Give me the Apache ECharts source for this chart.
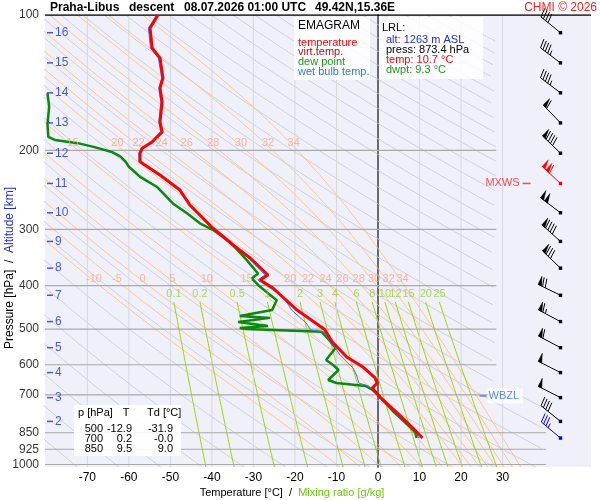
<!DOCTYPE html>
<html>
<head>
<meta charset="utf-8">
<script src="https://cdn.jsdelivr.net/npm/echarts@6/dist/echarts.min.js"></script>
<style>
html,body{margin:0;padding:0;background:#fff}
#chart{width:600px;height:500px}
</style>
</head>
<body>
<div id="chart"></div>
<script>
// axes
const pressTicks = [100, 200, 300, 400, 500, 600, 700, 850, 925, 1000];
const tempTicks = [-70, -60, -50, -40, -30, -20, -10, 0, 10, 20, 30];

// altitude marks (km) and the pressure where they sit in this sounding
const altKm = [16, 15, 14, 13, 12, 11, 10, 9, 8, 7, 6, 5, 4, 3, 2];
const altPres = [109.5, 127.8, 149.0, 173.8, 203.0, 237.0, 275.4, 319.0, 365.8, 420.3, 481.0, 549.7, 624.5, 710.0, 802.0];

// winds (deg, kt), last level is the launch level
const windP = [109.5, 127.8, 149.0, 173.8, 203.0, 237.0, 275.4, 319.0, 365.8, 420.3, 481.0, 549.7, 624.5, 710.0, 802.0, 873.4];
const windDir = [309, 307, 307, 316, 314, 313, 307, 312, 314, 296, 298, 298, 297, 297, 309, 310];
const windSpd = [40, 45, 45, 60, 90, 110, 100, 90, 80, 70, 65, 60, 50, 50, 40, 35];
const mxwsP = 237.0;
const wbzlP = 704;

// temperature
const tempP = [100, 106.9, 118.4, 124.7, 138.1, 145.4, 156.2, 172.9, 182.0, 191.7, 197.9, 202.9, 212.0, 227.0, 245.1, 264.7, 278.6, 297.8, 324.9, 347.2, 378.9, 388.7, 404.9, 453.3, 500, 534, 576.6, 607, 642, 659, 676, 708, 768, 830, 850, 873.4];
const tempT = [-53.0, -54.9, -54.4, -52.5, -51.8, -52.5, -52.0, -52.5, -52.0, -54.4, -56.8, -57.3, -57.3, -52.5, -47.7, -45.3, -42.9, -39.8, -34.9, -30.8, -26.5, -28.4, -25.3, -19.5, -12.9, -11.0, -7.5, -3.6, -0.7, -0.2, -1.4, 0.5, 4.6, 8.4, 9.5, 10.7];

// dew point
const dewP = [149.2, 160, 175, 186.8, 189.7, 192.8, 196.5, 201.7, 206.6, 212.0, 217.6, 229.1, 241.0, 262.6, 276.2, 290.7, 300.6, 319.4, 351.0, 375.9, 385.6, 402.5, 431.0, 453.3, 467.3, 471.9, 481.9, 491.9, 497.0, 499.5, 506.5, 528.6, 550.6, 562.0, 585.6, 600.8, 616.3, 648.7, 658.8, 669.0, 682.9, 700, 768, 830, 850, 873.4];
const dewT = [-79.6, -79.2, -79.6, -79.4, -77.8, -72.3, -68.5, -64.1, -62.0, -60.8, -60.0, -57.3, -53.3, -49.4, -46.0, -42.9, -39.8, -35.7, -31.6, -28.9, -30.4, -28.4, -24.4, -25.5, -33.3, -26.0, -33.7, -26.5, -33.3, -31.9, -13.6, -11.8, -10.2, -11.0, -12.5, -10.8, -9.5, -12.0, -10.0, -3.0, -1.3, 0.0, 4.0, 8.0, 9.0, 9.3];

// wet bulb temperature
const wetP = [100, 106.9, 118.4, 124.7, 138.1, 145.4, 156.2, 172.9, 182.0, 191.7, 197.9, 202.9, 212.0, 227.0, 245.1, 264.7, 278.6, 297.8, 324.9, 347.2, 378.9, 388.7, 404.9, 424.0, 453.3, 484.5, 502.2, 507.3, 534.0, 547.8, 570.7, 585.6, 610.1, 632.4, 658.8, 669.0, 676.0, 700, 768, 830, 850, 873.4];
const wetT = [-53.3, -55.3, -54.8, -52.9, -52.1, -52.8, -52.3, -52.8, -52.3, -54.7, -57.1, -57.6, -57.6, -52.8, -48.0, -45.6, -43.2, -40.1, -35.2, -31.2, -27.2, -28.9, -26.0, -22.8, -20.8, -17.3, -16.2, -13.0, -11.4, -10.4, -9.2, -8.0, -6.0, -5.2, -4.6, -2.3, -1.6, 0.1, 4.2, 8.1, 9.2, 9.8];

// diagram isopleths
const dryTheta = [200, 210, 220, 230, 240, 250, 260, 270, 280, 290, 300, 310, 320, 330, 340, 350, 360, 370, 380, 390, 400, 410, 420, 430, 440, 450, 460, 470, 480, 490, 500, 510, 520, 530, 540, 550, 560];
const moistThetaW = [-10, -5, 0, 5, 10, 15, 20, 22, 24, 26, 28, 30, 32, 34];
const mixRatio = [0.1, 0.2, 0.5, 1, 2, 3, 4, 6, 8, 10, 12, 15, 20, 25];

// launch level and summary table
const lrlAlt = 1263, lrlPres = 873.4, lrlT = 10.7, lrlTd = 9.3;
const tableP = ['500', '700', '850'];
const tableT = ['-12.9', '0.2', '9.5'];
const tableTd = ['-31.9', '-0.0', '9.0'];

const X0 = -80.2, X1 = 51.3, P0 = 100, P1 = 1013;
const barbX = 43.95;
const FF = '"Liberation Sans", Arial, Helvetica, sans-serif';

// thermodynamics for the background curves
const Rd = 287.04, cp = 1005.7, Lv = 2.501e6, eps = 0.622;
function es(Tk) { return 6.112 * Math.exp(17.67 * (Tk - 273.15) / (Tk - 29.65)); }
function dTdlnp(Tk, p) {
  const e = es(Tk), rs = eps * e / (p - e);
  return (Rd * Tk + Lv * rs) / (cp + Lv * Lv * rs * eps / (Rd * Tk * Tk));
}
function moistT(thw, p) {
  let T = thw + 273.15, lp = Math.log(1000);
  const lt = Math.log(p);
  const n = Math.max(1, Math.ceil(Math.abs(lt - lp) / 0.01));
  const h = (lt - lp) / n;
  for (let i = 0; i < n; i++) {
    const k1 = dTdlnp(T, Math.exp(lp));
    const k2 = dTdlnp(T + h * k1, Math.exp(lp + h));
    T += h * (k1 + k2) / 2;
    lp += h;
  }
  return T - 273.15;
}
function dryT(th, p) { return th * Math.pow(p / 1000, 0.2857) - 273.15; }
function mixTd(w, p) {
  const e = w * p / (622 + w), a = Math.log(e / 6.112);
  return 243.5 * a / (17.67 - a);
}

const pGrid = [];
for (let lp = Math.log(P0); lp <= Math.log(P1) + 1e-9; lp += 0.015) pGrid.push(Math.exp(lp));
pGrid.push(P1);

function tMax(p) { return p >= 695 ? 40.5 : 28.5; }

const series = [];
function lineS(data, color, width, z) {
  return {
    type: 'line', data: data, symbol: 'none', silent: true, z: z,
    lineStyle: { color: color, width: width }, clip: true
  };
}
function addCurve(pts, color, width, z) {
  let seg = [];
  pts.forEach(function (pt) {
    if (pt[0] <= tMax(pt[1])) {
      seg.push(pt);
    } else {
      if (seg.length > 1) series.push(lineS(seg, color, width, z));
      seg = [];
    }
  });
  if (seg.length > 1) series.push(lineS(seg, color, width, z));
}

dryTheta.forEach(function (th) {
  addCurve(pGrid.map(function (p) { return [dryT(th, p), p]; }), '#cfcfd7', 1, 1);
});
moistThetaW.forEach(function (tw) {
  addCurve(pGrid.map(function (p) { return [moistT(tw, p), p]; }), '#ffc585', 1, 1);
});
mixRatio.forEach(function (w) {
  const pts = pGrid.filter(function (p) { return p >= 432; }).map(function (p) { return [mixTd(w, p), p]; });
  addCurve(pts, '#9fd400', 1, 1);
});

// isotherms
tempTicks.forEach(function (t) {
  series.push(lineS([[t, P0], [t, P1]], t === 0 ? '#9a9a9a' : '#d6d6dc', 1, 2));
});
// isobars
pressTicks.forEach(function (p) {
  if (p === 100) return;
  const end = p >= 800 ? 40.5 : 28.5;
  series.push(lineS([[X0, p], [end, p]], '#a9a9a9', 1.2, 2));
});
series.push(lineS([[X0, P0], [X1, P0]], '#000', 1.5, 3));

// sounding
function zip(ps, ts) { return ps.map(function (p, i) { return [ts[i], p]; }); }
series.push(lineS(zip(dewP, dewT), '#0a8a0a', 2.5, 5));
series.push(lineS(zip(wetP, wetT), '#3377ff', 1, 6));
series.push(lineS(zip(tempP, tempT), '#ff0000', 3, 7));

// labels as scatter
function labelS(data, color, size, position, distance, fmt, extra) {
  return {
    type: 'scatter', data: data, symbolSize: 0, silent: true, z: 8,
    itemStyle: { color: 'transparent' },
    label: Object.assign({ show: true, position: position, distance: distance, color: color, fontSize: size, fontFamily: FF, formatter: fmt }, extra || {})
  };
}
series.push(labelS(pressTicks.map(function (p) { return [X0, p]; }), '#000', 12, 'left', 6,
  function (d) { return String(d.value[1]); }));

series.push({
  type: 'scatter', silent: true, z: 8, symbol: 'rect', symbolSize: [6, 1.5],
  itemStyle: { color: '#1f2fe0' },
  data: altKm.map(function (k, i) { return [-79.0, altPres[i], k]; }),
  label: { show: true, position: 'right', distance: 2, color: '#1f2fe0', fontSize: 12, fontFamily: FF,
    formatter: function (d) { return String(d.value[2]); } }
});

// moist adiabat labels
const moistLab = [];
moistThetaW.forEach(function (tw) {
  [193, 386].forEach(function (p) {
    const t = moistT(tw, p);
    if (t > -78 && t < 28) moistLab.push([t, p, tw]);
  });
});
series.push(labelS(moistLab, '#f7a486', 11, 'inside', 0, function (d) { return String(d.value[2]); }, { offset: [3, 0] }));

// mixing ratio labels
series.push(labelS(mixRatio.map(function (w) { return [mixTd(w, 436), 417, w]; }), '#9acd32', 11, 'inside', 0,
  function (d) { return String(d.value[2]); }));

// MXWS / WBZL markers
series.push({
  type: 'scatter', silent: true, z: 8, symbol: 'rect', symbolSize: [8, 1.5],
  itemStyle: { color: '#ff2020' }, data: [[35.8, mxwsP]],
  label: { show: true, position: 'left', distance: 3, color: '#ff2020', fontSize: 11, fontFamily: FF, formatter: 'MXWS' }
});
series.push({
  type: 'scatter', silent: true, z: 8, symbol: 'rect', symbolSize: [7, 1.5],
  itemStyle: { color: '#3070f0' }, data: [[25.3, wbzlP]],
  label: { show: true, position: 'right', distance: 1, color: '#3070f0', fontSize: 11, fontFamily: FF, formatter: 'WBZL',
    backgroundColor: 'rgba(255,255,255,0.9)', padding: [2, 4, 2, 1] }
});

// wind barbs
series.push({
  type: 'custom', silent: true, z: 9, clip: false,
  data: windP.map(function (p) { return [barbX, p]; }),
  renderItem: function (params, api) {
    const i = params.dataIndex;
    const p = windP[i];
    const col = p === mxwsP ? '#ff0000' : (p === lrlPres ? '#0000ff' : '#000000');
    const b = api.coord([api.value(0), api.value(1)]);
    const d = windDir[i] * Math.PI / 180;
    const ux = Math.sin(d), uy = -Math.cos(d);
    const px = -uy, py = ux;
    const S = 25, L = 9;
    const tip = [b[0] + ux * S, b[1] + uy * S];
    const ch = [
      { type: 'line', shape: { x1: b[0], y1: b[1], x2: tip[0], y2: tip[1] }, style: { stroke: col, lineWidth: 1 } },
      { type: 'rect', shape: { x: b[0] - 1.7, y: b[1] - 1.7, width: 3.4, height: 3.4 }, style: { fill: col } }
    ];
    let s = Math.round(windSpd[i] / 5) * 5;
    const flags = Math.floor(s / 50); s -= flags * 50;
    const full = Math.floor(s / 10); s -= full * 10;
    const half = s >= 5;
    let pos = 0;
    for (let k = 0; k < flags; k++) {
      const P = [tip[0] - ux * pos, tip[1] - uy * pos];
      ch.push({ type: 'polygon', shape: { points: [P, [P[0] + px * L, P[1] + py * L], [P[0] - ux * 4, P[1] - uy * 4]] },
        style: { fill: col, stroke: col, lineWidth: 0.5 } });
      pos += 5;
    }
    for (let k = 0; k < full; k++) {
      const P = [tip[0] - ux * pos, tip[1] - uy * pos];
      ch.push({ type: 'line', shape: { x1: P[0], y1: P[1], x2: P[0] + px * L + ux * 2.5, y2: P[1] + py * L + uy * 2.5 },
        style: { stroke: col, lineWidth: 1 } });
      pos += 3;
    }
    if (half) {
      if (pos === 0) pos = 3;
      const P = [tip[0] - ux * pos, tip[1] - uy * pos];
      ch.push({ type: 'line', shape: { x1: P[0], y1: P[1], x2: P[0] + px * L / 2 + ux * 1.25, y2: P[1] + py * L / 2 + uy * 1.25 },
        style: { stroke: col, lineWidth: 1 } });
    }
    return { type: 'group', children: ch };
  }
});

function txt(x, y, s, fill, font, align) {
  return {
    type: 'text', x: x, y: y, z: 100, silent: true,
    style: { text: s, fill: fill, font: font, align: align || 'left', verticalAlign: 'middle' }
  };
}
const f11 = '11px ' + FF, f12 = '12px ' + FF, fb = 'bold 12px ' + FF;
const graphic = [
  txt(50, 8, 'Praha-Libus', '#000', fb),
  txt(129, 8, 'descent', '#000', fb),
  txt(184, 8, '08.07.2026 01:00 UTC', '#000', fb),
  txt(315, 8, '49.42N,15.36E', '#000', fb),
  txt(597, 8, 'CHMI \u00a9 2026', '#ff2020', f12, 'right'),
  { type: 'rect', z: 99, silent: true, shape: { x: 294, y: 17, width: 76, height: 63 }, style: { fill: 'rgba(255,255,255,0.85)' } },
  txt(298, 26, 'EMAGRAM', '#000', f12),
  txt(298, 42.5, 'temperature', '#ff0000', f11),
  txt(298, 52.3, 'virt.temp.', '#a01818', f11),
  txt(298, 62, 'dew point', '#1a9a1a', f11),
  txt(298, 71.7, 'wet bulb temp.', '#3377ee', f11),
  { type: 'rect', z: 99, silent: true, shape: { x: 379, y: 17, width: 104, height: 62 }, style: { fill: 'rgba(255,255,255,0.85)' } },
  txt(382, 27.5, 'LRL:', '#000', f11),
  txt(386, 40, 'alt: ' + lrlAlt + ' m ASL', '#1f2fe0', f11),
  txt(386, 50, 'press: ' + lrlPres.toFixed(1) + ' hPa', '#000', f11),
  txt(386, 60, 'temp: ' + lrlT.toFixed(1) + ' \u00b0C', '#ff0000', f11),
  txt(386, 70, 'dwpt: ' + lrlTd.toFixed(1) + ' \u00b0C', '#1a9a1a', f11),
  { type: 'rect', z: 99, silent: true, shape: { x: 74, y: 405, width: 107, height: 51 }, style: { fill: 'rgba(255,255,255,0.9)' } },
  txt(78, 413, 'p [hPa]', '#000', f11),
  txt(126, 413, 'T', '#000', f11, 'center'),
  txt(147, 413, 'Td [\u00b0C]', '#000', f11),
  {
    type: 'text', x: 292, y: 493, z: 100, silent: true,
    style: { text: '{a|Temperature [\u00b0C]  /  }{b|Mixing ratio [g/kg]}', align: 'center', verticalAlign: 'middle',
      rich: { a: { fill: '#000', fontSize: 11, fontFamily: FF }, b: { fill: '#66cc00', fontSize: 11, fontFamily: FF } } }
  },
  {
    type: 'text', x: 10, y: 268, z: 100, silent: true, rotation: Math.PI / 2,
    style: { text: '{a|Pressure [hPa]  /  }{b|Altitude [km]}', align: 'center', verticalAlign: 'middle',
      rich: { a: { fill: '#000', fontSize: 12, fontFamily: FF }, b: { fill: '#1f2fe0', fontSize: 12, fontFamily: FF } } }
  }
];
tableP.forEach(function (p, i) {
  const y = 428.7 + i * 10.3;
  graphic.push(txt(103, y, p, '#000', f11, 'right'));
  graphic.push(txt(132, y, tableT[i], '#000', f11, 'right'));
  graphic.push(txt(173, y, tableTd[i], '#000', f11, 'right'));
});

const chart = echarts.init(document.getElementById('chart'));
chart.setOption({
  animation: false,
  backgroundColor: '#ffffff',
  grid: { left: 45, right: 9, top: 15, bottom: 33, show: true, backgroundColor: '#f0f0fa', borderWidth: 0 },
  xAxis: {
    type: 'value', min: X0, max: X1,
    axisLine: { show: false }, axisTick: { show: false }, splitLine: { show: false },
    axisLabel: { customValues: tempTicks, color: '#000', fontSize: 12, fontFamily: FF, margin: 5 }
  },
  yAxis: {
    type: 'log', min: P0, max: P1, inverse: true,
    axisLine: { show: true, lineStyle: { color: '#000', width: 1.5 } },
    axisTick: { show: false }, axisLabel: { show: false }, splitLine: { show: false }
  },
  series: series,
  graphic: graphic
});
</script>
</body>
</html>
